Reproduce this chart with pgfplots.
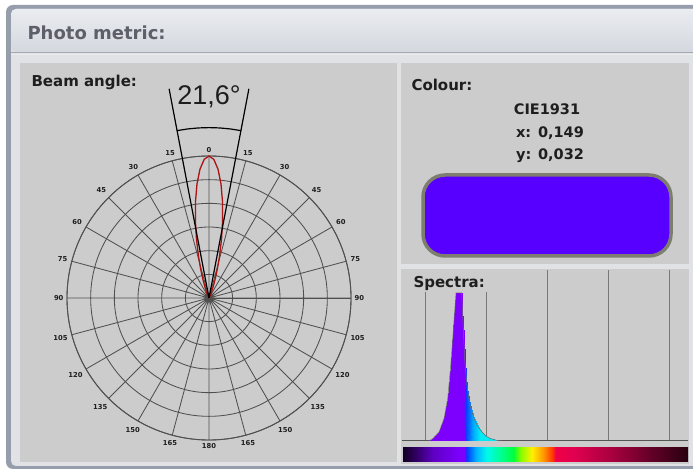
\documentclass[border=0pt]{standalone}
\usepackage{fontspec}
\setmainfont{DejaVu Sans}
\newfontfamily\arialf{Liberation Sans}
\usepackage{pgfplots}
\pgfplotsset{compat=1.18}
\usepgfplotslibrary{polar}

\definecolor{framec}{RGB}{150,158,172}
\definecolor{contentc}{RGB}{224,226,229}
\definecolor{titletop}{RGB}{234,236,240}
\definecolor{titlebot}{RGB}{212,216,222}
\definecolor{sepc}{RGB}{165,170,178}
\definecolor{panelc}{RGB}{204,204,204}
\definecolor{titletext}{RGB}{95,95,108}
\definecolor{textc}{RGB}{30,30,30}
\definecolor{gridc}{RGB}{80,80,80}
\definecolor{lobec}{RGB}{170,20,20}
\definecolor{swatch}{RGB}{88,0,255}
\definecolor{swatchedge}{RGB}{125,125,112}
\definecolor{basec}{RGB}{85,85,85}
\definecolor{specgrid}{RGB}{120,120,120}
\definecolor{outlinec}{RGB}{110,110,110}

\pgfplotsset{
  colormap={specbar}{rgb255(0pt)=(15,0,30); rgb255(20pt)=(45,0,90); rgb255(51pt)=(95,0,195);
    rgb255(95pt)=(125,0,255); rgb255(102pt)=(125,0,255); rgb255(106pt)=(0,60,255);
    rgb255(122pt)=(0,180,255); rgb255(139pt)=(0,250,235); rgb255(161pt)=(0,255,150);
    rgb255(183pt)=(0,255,60); rgb255(194pt)=(130,255,0); rgb255(213pt)=(255,240,0);
    rgb255(232pt)=(255,150,0); rgb255(246pt)=(255,60,0); rgb255(252pt)=(240,0,70);
    rgb255(281pt)=(225,0,80); rgb255(352pt)=(160,0,60); rgb255(407pt)=(100,0,40);
    rgb255(469pt)=(40,0,15)},
  colormap={specfill}{rgb255(0pt)=(125,0,255); rgb255(101pt)=(125,0,255); rgb255(105pt)=(10,60,255);
    rgb255(115pt)=(0,160,255); rgb255(127pt)=(0,235,245); rgb255(469pt)=(0,240,230)},
}

\begin{document}
\begin{tikzpicture}
\useasboundingbox (0,0) rectangle (693pt,473pt);

% window frame and panels (y measured from the top)
\begin{scope}[x=1pt, y=-1pt, shift={(0pt,473pt)}]
\fill[white] (0,0) rectangle (693,473);
\fill[framec, rounded corners=7pt] (6,5) rectangle (720,469);
\fill[contentc, rounded corners=5pt] (11,9) rectangle (720,466);
\shade[top color=titletop, bottom color=titlebot, rounded corners=5pt] (11,52) -- (11,9) -- (720,9) -- (720,52) -- cycle;
\draw[sepc, line width=1.3pt] (11,52.5) -- (720,52.5);
\draw[white!85!gray, line width=1pt] (11,54.5) -- (720,54.5);
\fill[panelc] (20,63) rectangle (397,462);
\fill[panelc] (401,63) rectangle (689,264);
\fill[panelc] (401,269) rectangle (689,464);

\node[anchor=west, text=titletext, font=\fontsize{18}{20}\selectfont\bfseries] at (24,33) {Photo metric:};
\node[anchor=west, text=textc, font=\fontsize{15}{17}\selectfont\bfseries] at (28,82) {Beam angle:};
\node[anchor=west, text=textc, font=\fontsize{15}{17}\selectfont\bfseries] at (408,85) {Colour:};
\node[text=textc, font=\fontsize{14.5}{16}\selectfont\bfseries] at (547,109) {CIE1931};
\node[text=textc, font=\fontsize{14.5}{16}\selectfont\bfseries] at (550,133) {x: 0,149};
\node[text=textc, font=\fontsize{14.5}{16}\selectfont\bfseries] at (550,156) {y: 0,032};
\draw[line width=3.5pt, draw=swatchedge, fill=swatch, rounded corners=22pt] (423,175) rectangle (671,256);
\end{scope}

% beam pattern
\begin{polaraxis}[
  at={(209pt,175pt)}, anchor=center,
  width=284pt, height=284pt, scale only axis,
  xmin=0, xmax=360, ymin=0, ymax=6,
  xtick={0,15,...,345},
  xticklabels={90,75,60,45,30,15,0,15,30,45,60,75,90,105,120,135,150,165,180,165,150,135,120,105},
  ytick={1,2,3,4,5,6}, yticklabels={},
  xmajorgrids, ymajorgrids,
  major grid style={color=gridc, line width=0.85pt},
  axis line style={color=gridc, line width=0.9pt},
  major tick length=0pt,
  xticklabel style={font=\fontsize{6.8}{7}\selectfont\bfseries, text=textc},
  clip=false,
]
\addplot[color=lobec, line width=1.3pt] coordinates {
  (60,0) (60,0.023) (62,0.048) (64,0.096) (66,0.180) (68,0.319) (70,0.537) (72,0.856)
  (74,1.295) (76,1.862) (78,2.546) (80,3.313) (82,4.105) (84,4.848) (86,5.458) (88,5.860)
  (90,6) (92,5.860) (94,5.458) (96,4.848) (98,4.105) (100,3.313) (102,2.546) (104,1.862)
  (106,1.295) (108,0.856) (110,0.537) (112,0.319) (114,0.180) (116,0.096) (118,0.048)
  (120,0.023) (120,0)
};
\addplot[black, line width=1.2pt] coordinates {(79.2,0) (79.2,9.0)};
\addplot[black, line width=1.2pt] coordinates {(100.8,0) (100.8,9.0)};
\addplot[black, line width=1.2pt] coordinates {
  (79.2,7.2) (82.8,7.2) (86.4,7.2) (90,7.2) (93.6,7.2) (97.2,7.2) (100.8,7.2)};
\node[font=\arialf\fontsize{27}{30}\selectfont, text=textc] at (axis cs:90,8.5) {21,6°};
\end{polaraxis}

% spectrum grid, baseline and colour bar
\begin{axis}[
  at={(402pt,32pt)}, anchor=south west,
  width=286pt, height=171pt, scale only axis,
  xmin=361, xmax=830, ymin=0, ymax=1.155,
  xtick={400,500,600,700,800}, xticklabels={}, ytick=\empty,
  xmajorgrids, major grid style={color=specgrid, line width=1pt},
  major tick length=0pt,
  axis line style={draw=none},
  colormap name=specbar,
  point meta min=361, point meta max=830,
  colorbar horizontal,
  colorbar style={at={(parent axis.south west)}, anchor=north west, yshift=4pt,
    height=16pt, xtick=\empty, axis line style={draw=none}},
]
\addplot[color=basec, line width=1.2pt] coordinates {(361,0) (830,0)};
\end{axis}

% spectrum peak
\begin{axis}[
  at={(402pt,32pt)}, anchor=south west,
  width=286pt, height=171pt, scale only axis,
  xmin=361, xmax=830, ymin=0, ymax=1.155,
  view={0}{90}, hide axis,
  colormap name=specfill,
  point meta min=361, point meta max=830,
]
\addplot3[surf, shader=interp, point meta=x] coordinates {
  (405,0,0) (412,0,0) (422,0,0) (430,0,0) (436,0,0) (441,0,0) (445,0,0) (449.5,0,0)
  (454,0,0) (458.8,0,0) (460,0,0) (462,0,0) (464,0,0) (466,0,0) (468,0,0) (472,0,0)
  (479,0,0) (485,0,0) (491.6,0,0) (498,0,0) (505.3,0,0) (516,0,0) (525,0,0)

  (405,0,0) (412,0.018,0) (422,0.063,0) (430,0.153,0) (436,0.289,0) (441,0.515,0) (445,0.74,0) (449.5,1,0)
  (454,1,0) (458.8,1,0) (460,0.89,0) (462,0.71,0) (464,0.54,0) (466,0.445,0) (468,0.36,0) (472,0.25,0)
  (479,0.153,0) (485,0.10,0) (491.6,0.063,0) (498,0.036,0) (505.3,0.018,0) (516,0.005,0) (525,0,0)
};
\addplot3[color=outlinec, line width=0.5pt] coordinates {
  (405,0,0) (412,0.018,0) (422,0.063,0) (430,0.153,0) (436,0.289,0) (441,0.515,0) (445,0.74,0) (449.5,1,0)
  (454,1,0) (458.8,1,0) (460,0.89,0) (462,0.71,0) (464,0.54,0) (466,0.445,0) (468,0.36,0) (472,0.25,0)
  (479,0.153,0) (485,0.10,0) (491.6,0.063,0) (498,0.036,0) (505.3,0.018,0) (516,0.005,0) (525,0,0)
};
\end{axis}

% label box over the spectrum grid
\begin{scope}[x=1pt, y=-1pt, shift={(0pt,473pt)}]
\fill[panelc] (401,269) rectangle (492,292);
\node[anchor=west, text=textc, font=\fontsize{15}{17}\selectfont\bfseries] at (410,283) {Spectra:};
\end{scope}
\end{tikzpicture}
\end{document}
